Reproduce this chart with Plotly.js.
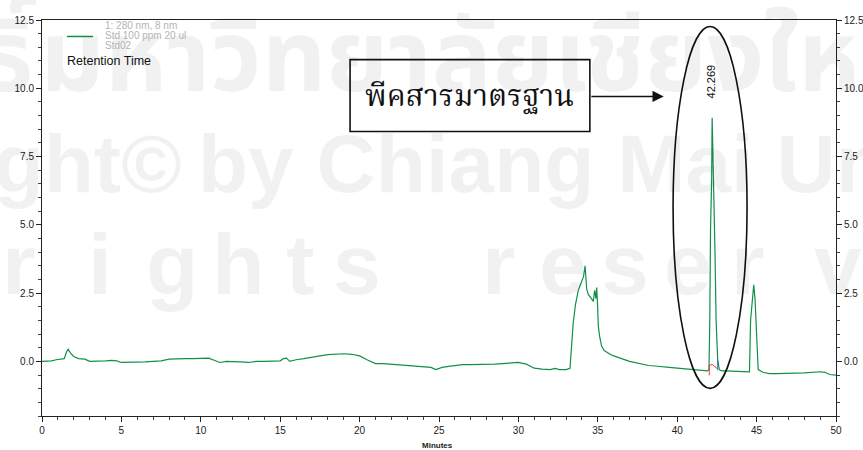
<!DOCTYPE html>
<html>
<head>
<meta charset="utf-8">
<script src="https://cdn.plot.ly/plotly-3.0.1.min.js"></script>
<style>html,body{margin:0;padding:0;background:#fff;}#chart{width:863px;height:450px;}</style>
</head>
<body>
<div id="chart"></div>
<script>
// Retention time (minutes)
var timeMin = [0, 0.3, 0.6, 0.9, 1.2, 1.4, 1.55, 1.65, 1.8, 2.0, 2.3, 2.7, 3.0, 3.5, 4.0, 4.4, 4.7, 5.0, 5.5, 6.0, 6.5, 7.0, 7.5, 8.0, 8.5, 9.0, 9.5, 10.0, 10.5, 10.8, 11.2, 11.6, 12.0, 12.5, 13.0, 13.5, 14.0, 14.5, 15.0, 15.2, 15.4, 15.6, 16.0,
  16.5, 17.0, 17.5, 18.0, 18.5, 19.0, 19.5, 20.0, 20.5, 21.0, 21.5, 22.0, 22.5, 23.0, 23.5, 24.0, 24.5, 24.8, 25.2, 25.6, 26.0, 26.5, 27.0, 27.5, 28.0, 28.5, 29.0, 29.5, 30.0, 30.5, 31.0, 31.5, 32.0, 32.3, 32.6, 33.0,
  33.25, 33.45, 33.6, 33.77, 33.9, 34.0, 34.1, 34.2, 34.3, 34.4, 34.5, 34.6, 34.72, 34.8, 34.88, 34.93, 34.98, 35.03, 35.12, 35.24, 35.4, 35.56, 35.8, 36.0, 36.2, 36.5, 37.0, 37.4, 37.8, 38.2, 38.6, 39.0, 39.5, 40.0, 40.5, 41.0, 41.5, 41.9,
  42.0, 42.05, 42.1, 42.17, 42.2, 42.3, 42.38, 42.45, 42.55, 42.65, 42.8, 43.0, 43.3, 43.6, 44.0, 44.3, 44.55, 44.62, 44.75, 44.82, 44.9, 45.0, 45.1, 45.4, 45.8, 46.2, 46.6, 47.0, 47.5, 48.0, 48.5, 49.0, 49.3, 49.6, 50.0];
// Detector response (280 nm)
var signal = [0.0, 0.0, 0.02, 0.06, 0.08, 0.1, 0.35, 0.45, 0.3, 0.18, 0.1, 0.08, 0.0, 0.0, 0.02, 0.04, 0.02, -0.04, -0.04, -0.04, -0.02, 0.0, 0.02, 0.08, 0.1, 0.1, 0.1, 0.12, 0.12, 0.05, -0.04, 0.0, 0.0, -0.02, -0.04, 0.0, 0.0, 0.0, 0.02, 0.1, 0.12, 0.0, 0.06,
  0.1, 0.14, 0.2, 0.25, 0.27, 0.28, 0.26, 0.2, 0.05, -0.08, -0.08, -0.1, -0.12, -0.15, -0.18, -0.2, -0.22, -0.3, -0.22, -0.18, -0.15, -0.12, -0.12, -0.12, -0.12, -0.1, -0.08, -0.05, -0.04, -0.1, -0.25, -0.28, -0.3, -0.26, -0.3, -0.3,
  -0.25, 1.4, 2.1, 2.6, 2.8, 2.95, 3.1, 3.5, 2.65, 2.45, 2.35, 2.3, 2.2, 2.6, 2.3, 2.7, 2.15, 1.3, 0.9, 0.56, 0.4, 0.33, 0.25, 0.2, 0.15, 0.1, 0.0, -0.05, -0.1, -0.15, -0.17, -0.18, -0.22, -0.25, -0.28, -0.3, -0.32, -0.35,
  -0.3, 1.4, 4.9, 6.65, 8.92, 6.6, 4.0, 1.5, 0.07, -0.3, -0.35, -0.35, -0.36, -0.36, -0.37, -0.37, -0.38, 1.5, 2.3, 2.8, 2.3, 0.9, -0.3, -0.4, -0.45, -0.45, -0.45, -0.45, -0.43, -0.42, -0.4, -0.38, -0.4, -0.48, -0.5];
// Integration baseline marks
var redX = [42.02, 42.02, 42.2, 42.53];
var redY = [-0.51, -0.15, -0.11, -0.27];
var blueX = [42.55, 42.55];
var blueY = [0.07, -0.32];

var yRange = [-2.0, 12.5];
var xRange = [0, 50];
var peakLabel = '42.269';
var peakTime = 42.13, peakLabelY = 10.25;
var legendLines = ['1: 280 nm, 8 nm', 'Std 100 ppm 20 ul', 'Std02'];
var calloutText = 'พีคสารมาตรฐาน';
// watermark letters of "rights reserved" and their centre pixels
var rightsLetters = ['r','i','g','h','t','s','r','e','s','e','r','v'];
var rightsCentres = [18, 100, 172, 238, 300, 357, 498, 563, 625, 688, 747, 838];

var green = '#12904a';
var traces = [
  {x: timeMin, y: signal, type: 'scatter', mode: 'lines', line: {color: green, width: 1.2}, hoverinfo: 'x+y', showlegend: false},
  {x: redX, y: redY, type: 'scatter', mode: 'lines', line: {color: '#f0333a', width: 1}, showlegend: false},
  {x: blueX, y: blueY, type: 'scatter', mode: 'lines', line: {color: '#4060d0', width: 1}, showlegend: false},
  {x: [0], y: [0], yaxis: 'y2', type: 'scatter', mode: 'lines', line: {color: 'rgba(0,0,0,0)'}, showlegend: false, hoverinfo: 'skip'}
];

// pixel helpers for paper coordinates (plot area l=42, r=836, t=19.5, b=416)
function px(x){ return (x - 42) / 794; }
function py(y){ return (416 - y) / 396.5; }

var wm = 'rgba(0,0,0,0.055)';
var wmSans = 'Liberation Sans Narrow, Liberation Sans, sans-serif';
var wmThai = 'Noto Sans Thai, Noto Sans, sans-serif';
var annotations = [
  // watermark
  {xref:'paper', yref:'paper', x: px(38), y: py(138), xanchor:'right', yanchor:'bottom', text:'<b>ลิขสิทธิ์</b>', showarrow:false, font:{size:100, color:wm, family:wmThai}},
  {xref:'paper', yref:'paper', x: px(38), y: py(138), xanchor:'left', yanchor:'bottom', text:'<b>มหาวิทยาลัยเชียงใหม่</b>', showarrow:false, font:{size:100, color:wm, family:wmThai}},
  {xref:'paper', yref:'paper', x: px(184), y: py(211), xanchor:'right', yanchor:'bottom', text:'<b>Copyright©</b>', showarrow:false, font:{size:82, color:wm, family:wmSans}},
  {xref:'paper', yref:'paper', x: px(196), y: py(211), xanchor:'left', yanchor:'bottom', text:'<b>by Chiang Mai University</b>', showarrow:false, font:{size:82, color:wm, family:wmSans}},
  // header text
  {xref:'paper', yref:'paper', x: px(103), y: py(25), xanchor:'left', yanchor:'middle', text: legendLines[0], showarrow:false, font:{size:10, color:'#b4b4b4', family:'Liberation Sans, sans-serif'}},
  {xref:'paper', yref:'paper', x: px(103), y: py(35), xanchor:'left', yanchor:'middle', text: legendLines[1], showarrow:false, font:{size:10, color:'#b4b4b4', family:'Liberation Sans, sans-serif'}},
  {xref:'paper', yref:'paper', x: px(103), y: py(45), xanchor:'left', yanchor:'middle', text: legendLines[2], showarrow:false, font:{size:10, color:'#b4b4b4', family:'Liberation Sans, sans-serif'}},
  {xref:'paper', yref:'paper', x: px(65), y: py(61), xanchor:'left', yanchor:'middle', text:'Retention Time', showarrow:false, font:{size:12.5, color:'#111', family:'Liberation Sans, Arial, sans-serif'}},
  // x axis title
  {xref:'paper', yref:'paper', x: px(437), y: py(446), xanchor:'center', yanchor:'middle', text:'<b>Minutes</b>', showarrow:false, font:{size:8, color:'#222', family:'Liberation Sans Narrow, Liberation Sans, sans-serif'}},
  // peak label
  {xref:'x', yref:'y', x: peakTime, y: peakLabelY, text: peakLabel, textangle:-90, showarrow:false, font:{size:11, color:'#111', family:'Liberation Sans, Arial, sans-serif'}},
  // callout
  {xref:'x', yref:'y', x: 26.95, y: 9.65, text: calloutText, showarrow:false, font:{size:30, color:'#111', family:'Noto Serif Thai, Noto Sans Thai Looped, Noto Sans Thai, sans-serif'}},
  {xref:'x', yref:'y', axref:'x', ayref:'y', x: 39.15, y: 9.7, ax: 34.5, ay: 9.7, text:'', showarrow:true, arrowhead:2, arrowsize:1.4, arrowwidth:1.6, arrowcolor:'#111'}
];
rightsLetters.forEach(function(ch, i){
  annotations.unshift({xref:'paper', yref:'paper', x: px(rightsCentres[i]), y: py(314), xanchor:'center', yanchor:'bottom', text:'<b>' + ch + '</b>', showarrow:false, font:{size:86, color:wm, family:wmSans}});
});

var shapes = [
  {type:'circle', xref:'x', yref:'y', x0:39.74, x1:44.4, y0:-0.99, y1:12.26, line:{color:'#111', width:1.6}},
  {type:'rect', xref:'x', yref:'y', x0:19.4, x1:34.5, y0:8.42, y1:11.05, line:{color:'#111', width:1.6}, fillcolor:'rgba(255,255,255,0)'},
  {type:'line', xref:'paper', yref:'paper', x0: px(67), x1: px(93), y0: py(36), y1: py(36), line:{color: green, width:1.5}}
];

var tickFont = {size:10, color:'#222', family:'Liberation Sans Narrow, Liberation Sans, Arial, sans-serif'};
var minorY = [-2,-1.5,-1,-0.5,0.5,1,1.5,2,3,3.5,4,4.5,5.5,6,6.5,7,8,8.5,9,9.5,10.5,11,11.5,12];
var layout = {
  width: 863, height: 450,
  margin: {l:42, r:27, t:19.5, b:34, pad:0},
  paper_bgcolor:'#fff', plot_bgcolor:'#fff',
  showlegend:false,
  xaxis: {range: xRange, dtick:5, tick0:0, ticks:'outside', ticklen:5, tickwidth:1, tickcolor:'#222', showline:true, linecolor:'#222', linewidth:1, mirror:true, showgrid:false, zeroline:false, tickfont:tickFont,
    minor:{dtick:1, ticks:'outside', ticklen:3, tickcolor:'#444', showgrid:false}},
  yaxis: {range: yRange, tickvals:[0,2.5,5,7.5,10,12.5], tickformat:'.1f', ticks:'outside', ticklen:5, tickwidth:1, tickcolor:'#222', showline:true, linecolor:'#222', linewidth:1, showgrid:false, zeroline:false, tickfont:tickFont,
    minor:{tickvals:minorY, ticks:'outside', ticklen:3, tickcolor:'#444', showgrid:false}},
  yaxis2: {range: yRange, overlaying:'y', side:'right', tickvals:[0,2.5,5,7.5,10,12.5], tickformat:'.1f', ticks:'outside', ticklen:5, tickwidth:1, tickcolor:'#222', showline:true, linecolor:'#222', linewidth:1, showgrid:false, zeroline:false, tickfont:tickFont,
    minor:{tickvals:minorY, ticks:'outside', ticklen:3, tickcolor:'#444', showgrid:false}},
  annotations: annotations,
  shapes: shapes
};
Plotly.newPlot('chart', traces, layout, {staticPlot:true, displayModeBar:false});
</script>
</body>
</html>
